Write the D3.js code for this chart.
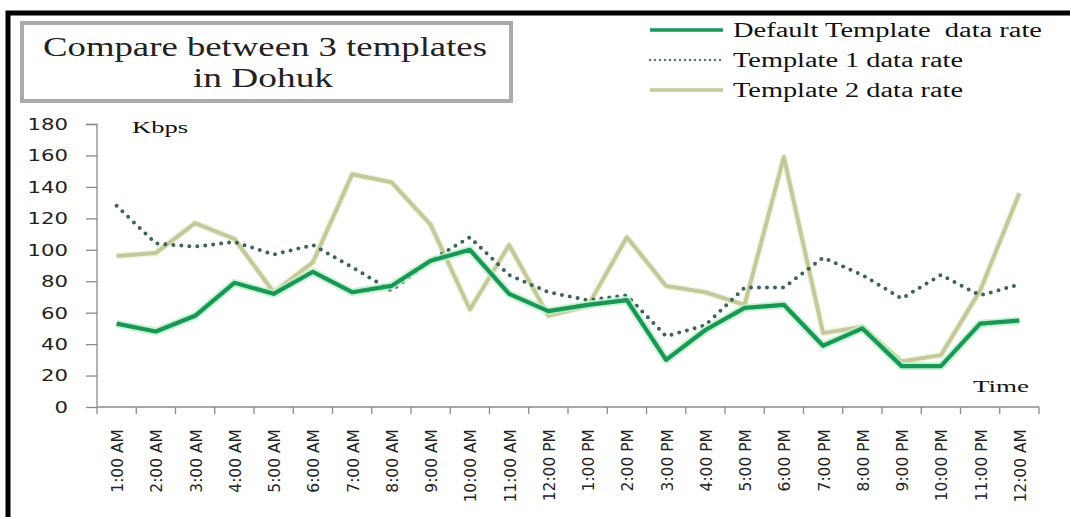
<!DOCTYPE html>
<html>
<head>
<meta charset="utf-8">
<script src="https://cdn.jsdelivr.net/npm/d3@7"></script>
<style>
  body { margin: 0; background: #fff; }
  svg { display: block; }
  text { white-space: pre; }
</style>
</head>
<body>
<script>
const width = 1070;
const height = 517;
const margin = { top: 124, right: 31, bottom: 110, left: 97 };

// Data (Kbps per hour)
const hours = ['1:00 AM', '2:00 AM', '3:00 AM', '4:00 AM', '5:00 AM', '6:00 AM', '7:00 AM', '8:00 AM',
    '9:00 AM', '10:00 AM', '11:00 AM', '12:00 PM', '1:00 PM', '2:00 PM', '3:00 PM', '4:00 PM',
    '5:00 PM', '6:00 PM', '7:00 PM', '8:00 PM', '9:00 PM', '10:00 PM', '11:00 PM', '12:00 AM'];
const defaultRate = [53, 48, 58, 79, 72, 86, 73, 77, 93, 100, 72, 61, 65, 68, 30, 49, 63, 65, 39, 50, 26, 26, 53, 55];
const template1Rate = [128, 104, 102, 105, 97, 103, 89, 74, 93, 108, 84, 73, 68, 71, 45, 52, 76, 76, 95, 84, 69, 84, 71, 78];
const template2Rate = [96, 98, 117, 107, 73, 92, 148, 143, 116, 62, 103, 58, 64, 108, 77, 73, 65, 159, 47, 51, 29, 33, 74, 136];
const yTicks = [0, 20, 40, 60, 80, 100, 120, 140, 160, 180];
const seriesNames = ['Default Template  data rate', 'Template 1 data rate', 'Template 2 data rate'];

const svg = d3.select('body').append('svg')
    .attr('width', width)
    .attr('height', height);

// outer black frame (cut off on the right and bottom)
svg.append('rect')
    .attr('x', 8).attr('y', 13)
    .attr('width', width + 20).attr('height', height + 20)
    .attr('fill', 'none')
    .attr('stroke', '#000')
    .attr('stroke-width', 5);

const innerW = width - margin.left - margin.right;
const innerH = height - margin.top - margin.bottom;

const x = d3.scaleBand().domain(hours).range([0, innerW]);
const y = d3.scaleLinear().domain([0, 180]).range([innerH, 0]);

const g = svg.append('g')
    .attr('transform', `translate(${margin.left},${margin.top})`);

// y axis
const yAxis = g.append('g')
    .call(d3.axisLeft(y).tickValues(yTicks).tickSize(11).tickPadding(18));
yAxis.select('.domain').attr('stroke', '#8a8a8a').attr('stroke-width', 1.3)
    .attr('d', `M-11,0.5H0V${innerH}`);
yAxis.selectAll('.tick line').attr('stroke', '#8a8a8a').attr('stroke-width', 1.3);
yAxis.selectAll('.tick text')
    .attr('font-family', 'DejaVu Sans, Verdana, sans-serif')
    .attr('font-size', 15)
    .attr('fill', '#222')
    .attr('dy', '0.36em')
    .attr('textLength', d => String(d).length * 13.5)
    .attr('lengthAdjust', 'spacingAndGlyphs');

// x axis: ticks on band edges
const xAxis = g.append('g')
    .attr('transform', `translate(0,${innerH})`);
xAxis.append('line')
    .attr('x1', 0).attr('x2', innerW)
    .attr('stroke', '#8a8a8a').attr('stroke-width', 1.3);
xAxis.selectAll('.edge')
    .data(hours.concat(['end']))
    .enter().append('line')
    .attr('class', 'edge')
    .attr('x1', (d, i) => i * x.bandwidth())
    .attr('x2', (d, i) => i * x.bandwidth())
    .attr('y1', 0).attr('y2', 7)
    .attr('stroke', '#8a8a8a').attr('stroke-width', 1.3);
xAxis.selectAll('.lbl')
    .data(hours)
    .enter().append('text')
    .attr('class', 'lbl')
    .attr('transform', d => `translate(${x(d) + x.bandwidth() / 2 + 1},22) rotate(-90)`)
    .attr('text-anchor', 'end')
    .attr('dy', '0.36em')
    .attr('font-family', 'DejaVu Sans, Verdana, sans-serif')
    .attr('font-size', 15.5)
    .attr('fill', '#222')
    .text(d => d);

const cx = d => x(d) + x.bandwidth() / 2;
const line = vals => d3.line()
    .x((d, i) => cx(hours[i]))
    .y(d => y(d))(vals);

// Template 2 (khaki) with faint glow
g.append('path').attr('d', line(template2Rate))
    .attr('fill', 'none').attr('stroke', '#f1f7e0').attr('stroke-width', 7)
    .attr('stroke-linejoin', 'round');
g.append('path').attr('d', line(template2Rate))
    .attr('fill', 'none').attr('stroke', '#c5c79c').attr('stroke-width', 4)
    .attr('stroke-linejoin', 'round');

// Template 1 (dotted)
g.append('path').attr('d', line(template1Rate))
    .attr('fill', 'none').attr('stroke', '#3c6458').attr('stroke-width', 4)
    .attr('stroke-linecap', 'round')
    .attr('stroke-dasharray', '0 8');

// Default template (green) with light glow
g.append('path').attr('d', line(defaultRate))
    .attr('fill', 'none').attr('stroke', '#b6f2c8').attr('stroke-width', 8)
    .attr('stroke-linejoin', 'round').attr('opacity', 0.8);
g.append('path').attr('d', line(defaultRate))
    .attr('fill', 'none').attr('stroke', '#1b9656').attr('stroke-width', 4.2)
    .attr('stroke-linejoin', 'round');

// axis unit labels
g.append('text')
    .attr('x', 35).attr('y', 9)
    .attr('font-family', 'Liberation Serif, Times New Roman, serif')
    .attr('font-size', 17)
    .attr('textLength', 56).attr('lengthAdjust', 'spacingAndGlyphs')
    .attr('fill', '#111')
    .text('Kbps');
g.append('text')
    .attr('x', 876).attr('y', 268)
    .attr('font-family', 'Liberation Serif, Times New Roman, serif')
    .attr('font-size', 17)
    .attr('textLength', 56).attr('lengthAdjust', 'spacingAndGlyphs')
    .attr('fill', '#111')
    .text('Time');

// title box
svg.append('rect')
    .attr('x', 22).attr('y', 23)
    .attr('width', 489).attr('height', 78)
    .attr('fill', '#fff')
    .attr('stroke', '#ababab')
    .attr('stroke-width', 4);
svg.append('text')
    .attr('x', 43).attr('y', 56)
    .attr('font-family', 'Liberation Serif, Times New Roman, serif')
    .attr('font-size', 27)
    .attr('textLength', 444).attr('lengthAdjust', 'spacingAndGlyphs')
    .attr('fill', '#222')
    .text('Compare between 3 templates');
svg.append('text')
    .attr('x', 193).attr('y', 87)
    .attr('font-family', 'Liberation Serif, Times New Roman, serif')
    .attr('font-size', 27)
    .attr('textLength', 140).attr('lengthAdjust', 'spacingAndGlyphs')
    .attr('fill', '#222')
    .text('in Dohuk');

// legend
const legendStyles = [
    { stroke: '#1b9656', width: 3.5, dash: null, cap: 'butt' },
    { stroke: '#4a7d6e', width: 2.5, dash: '0 5', cap: 'round' },
    { stroke: '#c5c79c', width: 3.5, dash: null, cap: 'butt' }
];
const legendWidths = [309, 230, 230];
const legend = svg.append('g').attr('transform', 'translate(650,30)');
seriesNames.forEach((name, i) => {
    const row = legend.append('g').attr('transform', `translate(0,${i * 30})`);
    row.append('line')
        .attr('x1', 0).attr('x2', 73)
        .attr('stroke', legendStyles[i].stroke)
        .attr('stroke-width', legendStyles[i].width)
        .attr('stroke-linecap', legendStyles[i].cap)
        .attr('stroke-dasharray', legendStyles[i].dash);
    row.append('text')
        .attr('x', 83).attr('y', 7)
        .attr('font-family', 'Liberation Serif, Times New Roman, serif')
        .attr('font-size', 20)
        .attr('textLength', legendWidths[i]).attr('lengthAdjust', 'spacingAndGlyphs')
        .attr('fill', '#111')
        .text(name);
});
</script>
</body>
</html>
